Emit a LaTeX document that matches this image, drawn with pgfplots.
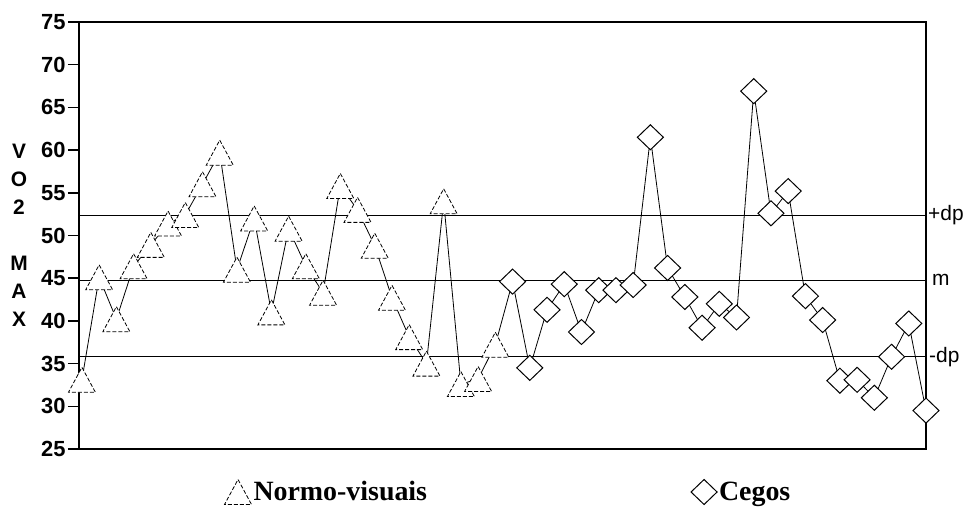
\documentclass[border=0pt]{standalone}
\usepackage{pgfplots}
\pgfplotsset{compat=1.18}
\usepackage{fontspec}
\setmainfont{Liberation Sans}
\newfontfamily\legfont{Liberation Serif}

\pgfdeclareplotmark{tri}{%
  \pgfpathmoveto{\pgfqpoint{0bp}{12.5bp}}%
  \pgfpathlineto{\pgfqpoint{13.5bp}{-12.5bp}}%
  \pgfpathlineto{\pgfqpoint{-13.5bp}{-12.5bp}}%
  \pgfpathclose
  \pgfusepathqfillstroke}
\pgfdeclareplotmark{dia}{%
  \pgfpathmoveto{\pgfqpoint{0bp}{12.5bp}}%
  \pgfpathlineto{\pgfqpoint{13bp}{0bp}}%
  \pgfpathlineto{\pgfqpoint{0bp}{-12.5bp}}%
  \pgfpathlineto{\pgfqpoint{-13bp}{0bp}}%
  \pgfpathclose
  \pgfusepathqfillstroke}

\pgfplotstableread{
x y
0 33.1
1 45.1
2 40.2
3 46.4
4 48.9
5 51.4
6 52.4
7 56.0
8 59.7
9 46.0
10 52.0
11 41.0
12 50.8
13 46.4
14 43.3
15 55.8
16 53.0
17 48.8
18 42.7
19 38.1
20 35.0
21 54.0
22 32.6
23 33.2
24 37.2
}\normo

\pgfplotstableread{
x y
25 44.6
26 34.5
27 41.3
28 44.3
29 38.7
30 43.6
31 43.6
32 44.2
33 61.5
34 46.2
35 42.8
36 39.2
37 42.0
38 40.4
39 66.9
40 52.6
41 55.2
42 42.9
43 40.1
44 33.0
45 33.1
46 31.0
47 35.8
48 39.7
49 29.5
}\cegos

\pgfplotstableread{
x y
0 33.1
1 45.1
2 40.2
3 46.4
4 48.9
5 51.4
6 52.4
7 56.0
8 59.7
9 46.0
10 52.0
11 41.0
12 50.8
13 46.4
14 43.3
15 55.8
16 53.0
17 48.8
18 42.7
19 38.1
20 35.0
21 54.0
22 32.6
23 33.2
24 37.2
25 44.6
26 34.5
27 41.3
28 44.3
29 38.7
30 43.6
31 43.6
32 44.2
33 61.5
34 46.2
35 42.8
36 39.2
37 42.0
38 40.4
39 66.9
40 52.6
41 55.2
42 42.9
43 40.1
44 33.0
45 33.1
46 31.0
47 35.8
48 39.7
49 29.5
}\alldata

\begin{document}
\begin{tikzpicture}
\useasboundingbox (-79bp,-59bp) rectangle (886bp,449bp);
\begin{axis}[
  at={(0,0)}, anchor=south west,
  scale only axis, width=847bp, height=427bp,
  xmin=-0.17, xmax=49, ymin=25, ymax=75,
  xtick=\empty, ytick={25,30,35,40,45,50,55,60,65,70,75},
  yticklabels={\textbf{25},\textbf{30},\textbf{35},\textbf{40},\textbf{45},\textbf{50},\textbf{55},\textbf{60},\textbf{65},\textbf{70},\textbf{75}},
  ytick pos=left, tick align=outside, major tick length=11bp,
  axis line style={line width=2.5bp},
  tick style={line width=1.5bp, black},
  yticklabel style={font=\bfseries\fontsize{22}{24}\selectfont, xshift=1bp},
  ylabel={V\\O\\2\\[28bp]M\\A\\X},
  ylabel style={rotate=-90, align=center, font=\bfseries\fontsize{21}{28}\selectfont,
    at={(axis description cs:0,0.5)}, anchor=center, xshift=-60bp},
  clip=false,
  legend columns=2,
  legend style={at={(axis description cs:0.507,0)}, anchor=center, yshift=-43bp,
    draw=none, fill=none, font=\legfont\bfseries\fontsize{28}{32}\selectfont},
]
\addplot[black, line width=0.8bp, forget plot] coordinates {(-0.17,52.4) (49,52.4)};
\addplot[black, line width=0.8bp, forget plot] coordinates {(-0.17,44.8) (49,44.8)};
\addplot[black, line width=0.8bp, forget plot] coordinates {(-0.17,35.8) (49,35.8)};
\addplot[black, line width=0.8bp, forget plot] table[x=x,y=y] {\alldata};
\addplot[only marks, mark=tri, mark options={fill=white, draw=black, line width=0.8bp, dash pattern=on 4bp off 2bp}] table[x=x,y=y] {\normo};
\addlegendentry{Normo-visuais\rule{262bp}{0pt}}
\addplot[only marks, mark=dia, mark options={fill=white, draw=black, line width=1bp, solid}] table[x=x,y=y] {\cegos};
\addlegendentry{Cegos}
\node[anchor=west, inner sep=0pt, xshift=2bp, font=\fontsize{21}{24}\selectfont] at (axis cs:49,52.4) {+dp};
\node[anchor=west, inner sep=0pt, xshift=6bp, font=\fontsize{21}{24}\selectfont] at (axis cs:49,44.8) {m};
\node[anchor=west, inner sep=0pt, xshift=3bp, font=\fontsize{21}{24}\selectfont] at (axis cs:49,35.8) {-dp};
\end{axis}
\end{tikzpicture}
\end{document}
